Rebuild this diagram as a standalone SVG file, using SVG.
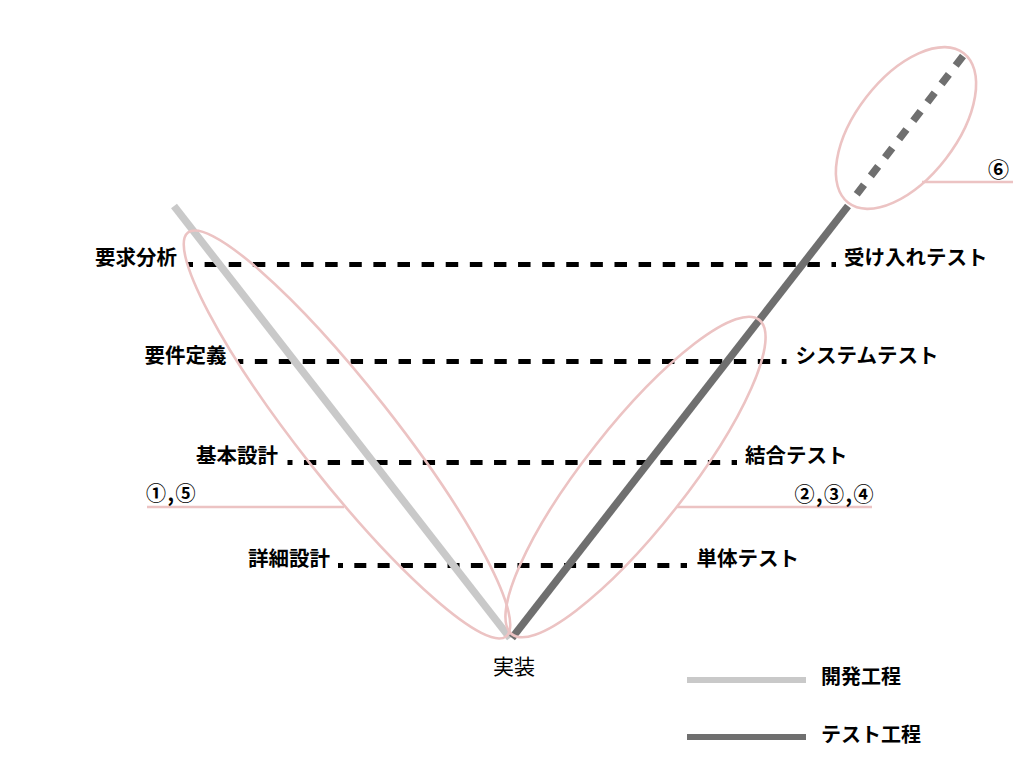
<svg xmlns="http://www.w3.org/2000/svg" width="1020" height="780" viewBox="0 0 1020 780">
<style>
  text { font-family: "Noto Sans CJK JP", "Noto Sans", sans-serif; fill: #000; }
  .lbl { font-size: 20.5px; font-weight: bold; }
  .leg { font-size: 20px; font-weight: bold; }
  .num { font-size: 20px; font-weight: bold; letter-spacing: 1.5px; }
  .impl { font-size: 21px; font-weight: normal; }
  .dash { stroke: #000; stroke-width: 5; fill: none; }
  .dev { stroke: #c9c9c9; stroke-width: 7.5; fill: none; }
  .test { stroke: #6f6f6f; stroke-width: 7.5; fill: none; }
  .hl { stroke: #ecc3c3; stroke-width: 2.6; fill: none; }
</style>
<rect width="1020" height="780" fill="#fff"/>
<g id="connectors">
  <line class="dash" x1="187" y1="264.5" x2="836" y2="264.5" stroke-dasharray="12.5 11.61" stroke-dashoffset="6.5"/>
  <line class="dash" x1="238" y1="361.5" x2="786.5" y2="361.5" stroke-dasharray="12.4 11.55" stroke-dashoffset="7.1"/>
  <line class="dash" x1="287.5" y1="462.5" x2="737" y2="462.5" stroke-dasharray="12.3 11.46" stroke-dashoffset="7.3"/>
  <line class="dash" x1="338" y1="565.5" x2="687" y2="565.5" stroke-dasharray="12 11.31" stroke-dashoffset="7"/>
  <line class="dev" x1="174" y1="206" x2="510" y2="638"/>
  <line class="test" x1="512" y1="638" x2="848" y2="206"/>
  <line class="test" x1="963" y1="56" x2="850" y2="203" stroke-dasharray="12 11.2"/>
  <line class="hl" x1="147" y1="507" x2="344" y2="507"/>
  <line class="hl" x1="677" y1="507" x2="872" y2="507"/>
  <line class="hl" x1="922" y1="182" x2="1013" y2="182"/>
</g>
<g id="group-dev">
  <ellipse class="hl" cx="0" cy="0" rx="257" ry="47" transform="translate(347 434.5) rotate(51.78)"/>
  <text class="num" x="146" y="501">①,⑤</text>
</g>
<g id="group-test">
  <ellipse class="hl" cx="0" cy="0" rx="200" ry="51" transform="translate(635.5 477) rotate(-51.78)"/>
  <text class="num" x="875" y="502" text-anchor="end">②,③,④</text>
</g>
<g id="group-accept">
  <ellipse class="hl" cx="0" cy="0" rx="94.5" ry="50.3" transform="translate(906 128) rotate(-52.35)"/>
  <text class="num" x="998.5" y="176.5" text-anchor="middle" style="letter-spacing:0;font-size:21px">⑥</text>
</g>
<g id="node-youkyu"><text class="lbl" x="177" y="265" text-anchor="end">要求分析</text></g>
<g id="node-youken"><text class="lbl" x="226.5" y="363" text-anchor="end">要件定義</text></g>
<g id="node-kihon"><text class="lbl" x="278" y="463" text-anchor="end">基本設計</text></g>
<g id="node-shousai"><text class="lbl" x="330" y="566" text-anchor="end">詳細設計</text></g>
<g id="node-ukeire"><text class="lbl" x="844" y="265">受け入れテスト</text></g>
<g id="node-system"><text class="lbl" x="795.5" y="363">システムテスト</text></g>
<g id="node-ketsugou"><text class="lbl" x="745" y="463">結合テスト</text></g>
<g id="node-tantai"><text class="lbl" x="696.5" y="566">単体テスト</text></g>
<g id="node-jissou"><text class="impl" x="514" y="674" text-anchor="middle">実装</text></g>
<g id="legend">
  <line class="dev" x1="687" y1="680" x2="806" y2="680" style="stroke-width:6"/>
  <text class="leg" x="821" y="684">開発工程</text>
  <line class="test" x1="687" y1="737" x2="806" y2="737" style="stroke-width:6"/>
  <text class="leg" x="821" y="741.5">テスト工程</text>
</g>
</svg>
